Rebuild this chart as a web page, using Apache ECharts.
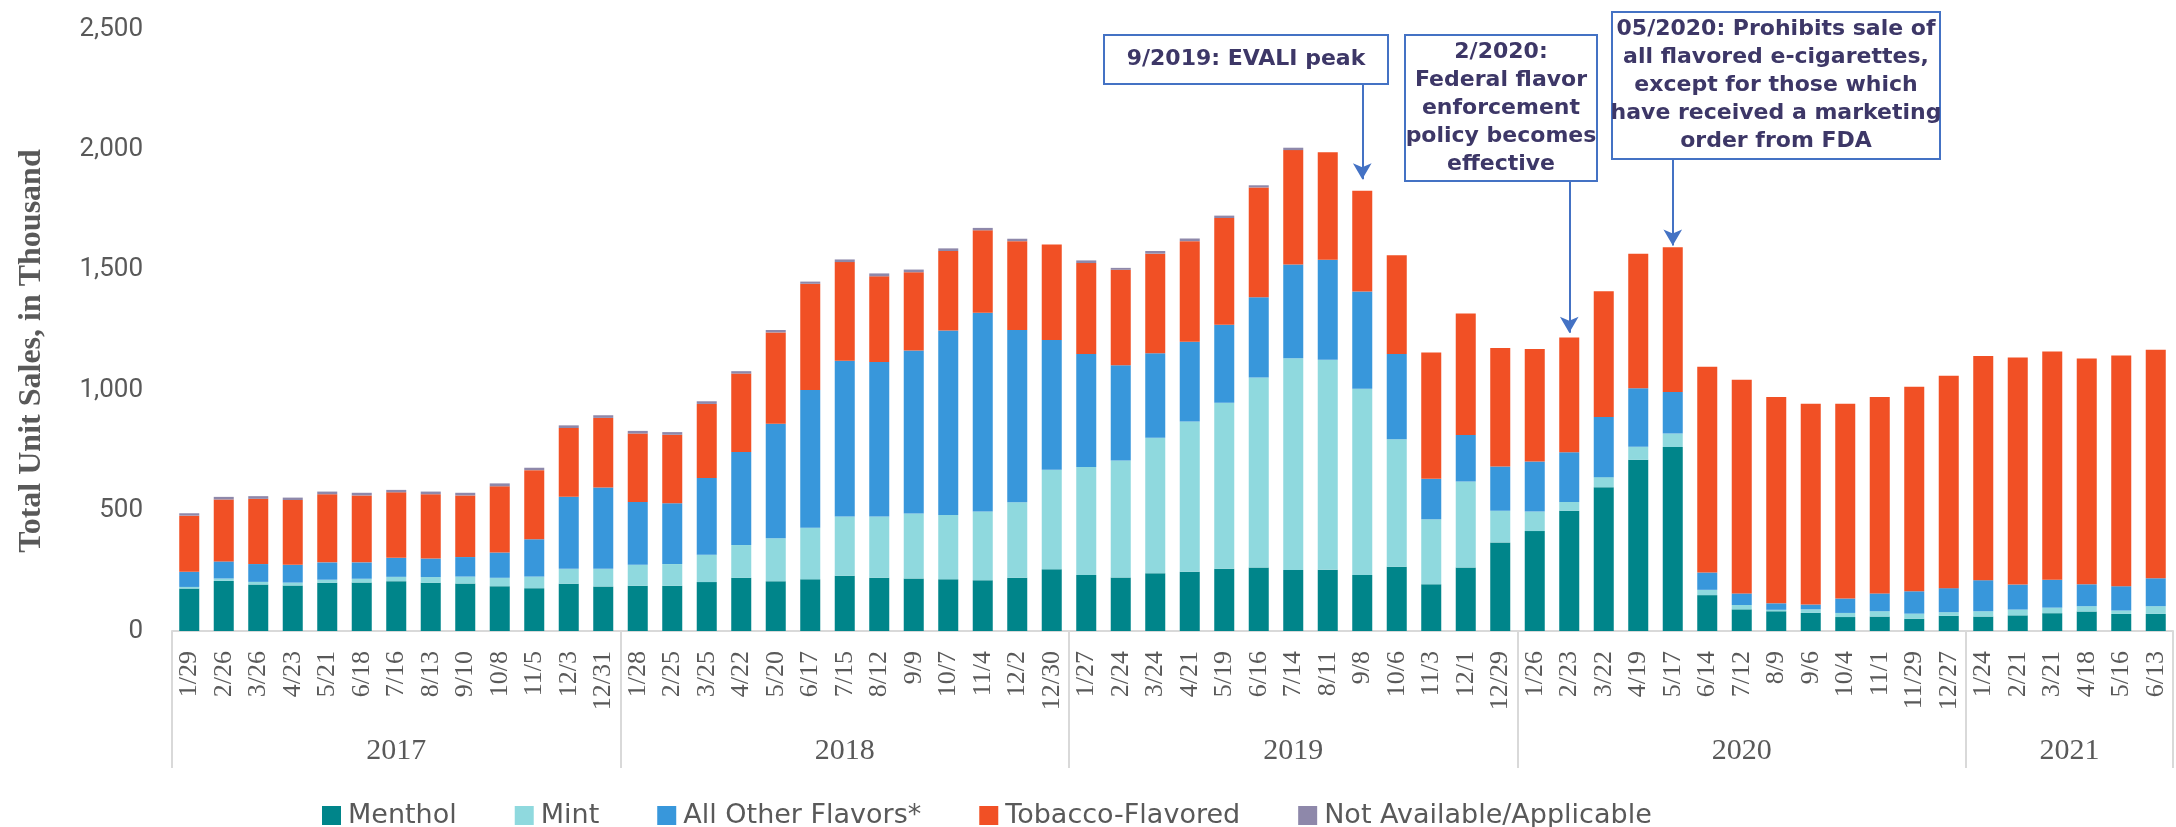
<!DOCTYPE html>
<html>
<head>
<meta charset="utf-8">
<title>E-cigarette unit sales by flavor</title>
<script src="https://cdn.jsdelivr.net/npm/echarts@6/dist/echarts.min.js"></script>
<style>
  html, body { margin: 0; padding: 0; background: #fff; }
  #chart { width: 2176px; height: 827px; }
</style>
</head>
<body>
<div id="chart"></div>
<script>
// 4-week periods, Jan 2017 - Jun 2021
var weeks = [
  '1/29','2/26','3/26','4/23','5/21','6/18','7/16','8/13','9/10','10/8','11/5','12/3','12/31',
  '1/28','2/25','3/25','4/22','5/20','6/17','7/15','8/12','9/9','10/7','11/4','12/2','12/30',
  '1/27','2/24','3/24','4/21','5/19','6/16','7/14','8/11','9/8','10/6','11/3','12/1','12/29',
  '1/26','2/23','3/22','4/19','5/17','6/14','7/12','8/9','9/6','10/4','11/1','11/29','12/27',
  '1/24','2/21','3/21','4/18','5/16','6/13'
];
var years = ['2017', '2018', '2019', '2020', '2021'];
var yearSizes = [13, 13, 13, 13, 6];   // number of periods in each year

// unit sales, in thousand
var menthol = [
  176,208,193,189,200,201,207,200,197,186,178,196,185,
  188,188,203,221,207,215,229,221,218,215,211,221,256,
  233,222,240,246,258,264,253,254,233,267,194,264,368,
  415,499,597,711,764,149,90,82,75,58,60,51,63,
  60,65,74,81,71,71
];
var mint = [
  7,10,11,12,13,16,18,24,29,35,48,62,73,
  87,90,114,136,178,214,246,255,270,267,285,314,414,
  448,486,563,624,690,789,880,872,773,529,270,357,131,
  81,37,42,54,56,22,18,6,15,17,22,21,15,
  22,24,23,22,14,32
];
var otherFlavors = [
  63,71,74,74,72,68,79,77,81,105,155,299,338,
  261,253,318,386,476,572,647,641,677,766,826,715,538,
  469,396,350,331,324,333,389,416,404,354,168,193,184,
  208,206,250,243,173,72,48,27,20,60,74,93,100,
  129,104,116,91,101,116
];
var tobacco = [
  233,257,271,269,283,278,272,267,256,275,287,286,289,
  284,284,308,326,379,441,410,356,325,330,342,369,397,
  378,396,414,418,443,456,475,446,418,410,525,505,492,
  467,477,522,559,601,854,887,857,834,809,816,849,882,
  931,943,948,938,958,949
];
var notAvailable = [
  10,11,11,10,11,11,10,11,11,12,10,11,11,
  11,11,11,10,10,9,11,12,11,11,10,10,0,
  11,8,11,11,10,9,10,0,0,0,0,0,0,
  0,0,0,0,0,0,0,0,0,0,0,0,0,
  0,0,0,0,0,0
];

// arrows: [period index, value at box bottom, value at arrow tip]
var arrows = [
  [34, 2272, 1876],   // 9/8/2019
  [40, 1868, 1239],   // 2/23/2020
  [43, 1959, 1601]    // 5/17/2020
];

var colors = ['#00858A', '#8FD9DE', '#3897DB', '#F15025', '#8E88AA'];
var gray = '#595959';
var noteColor = '#3D3767';
var boxColor = '#4472C4';

// year group edges and centers on the 0..N scale of the lower axis
var yearEdges = [0], yearMids = [];
yearSizes.forEach(function (n, i) {
  yearMids.push(yearEdges[i] + n / 2);
  yearEdges.push(yearEdges[i] + n);
});

var myChart = echarts.init(document.getElementById('chart'));

function barSeries(name, data, idx) {
  return {
    name: name,
    type: 'bar',
    stack: 'total',
    data: data,
    barCategoryGap: '42%',
    itemStyle: { color: colors[idx] }
  };
}

var series = [
  barSeries('Menthol', menthol, 0),
  barSeries('Mint', mint, 1),
  barSeries('All Other Flavors*', otherFlavors, 2),
  barSeries('Tobacco-Flavored', tobacco, 3),
  barSeries('Not Available/Applicable', notAvailable, 4)
];
// annotation arrows
series[0].markLine = {
  silent: true,
  symbol: ['none', 'arrow'],
  symbolSize: [14, 16],
  label: { show: false },
  lineStyle: { color: boxColor, width: 2, type: 'solid' },
  data: arrows.map(function (a) {
    return [{ coord: [a[0], a[1]] }, { coord: [a[0], a[2]] }];
  })
};

function noteBox(x, y, w, h, text) {
  return {
    type: 'group',
    children: [
      { type: 'rect', shape: { x: x, y: y, width: w, height: h },
        style: { fill: '#fff', stroke: boxColor, lineWidth: 2 } },
      { type: 'text', x: x + w / 2, y: y + h / 2,
        style: { text: text, fill: noteColor, align: 'center', verticalAlign: 'middle',
                 font: 'bold 22px "DejaVu Sans"', lineHeight: 28 } }
    ]
  };
}

var option = {
  animation: false,
  textStyle: { fontFamily: 'Roboto' },
  grid: { left: 172, right: 3, top: 29, bottom: 196 },
  legend: {
    left: 313,
    top: 797,
    itemWidth: 23,
    itemHeight: 23,
    itemGap: 54,
    icon: 'rect',
    // white border trims the 23px box to a ~19px swatch
    itemStyle: { borderColor: '#fff', borderWidth: 4 },
    textStyle: { fontSize: 27, color: gray, fontFamily: '"DejaVu Sans"' }
  },
  xAxis: [
    {
      type: 'category',
      data: weeks,
      axisLine: { lineStyle: { color: '#D9D9D9', width: 2 } },
      axisTick: { show: false },
      axisLabel: {
        interval: 0,
        rotate: 90,
        margin: 20,
        color: gray,
        fontFamily: '"Liberation Serif"',
        fontSize: 26
      }
    },
    {
      // lower tier: years
      type: 'value',
      position: 'bottom',
      min: 0,
      max: weeks.length,
      axisLine: { show: false },
      splitLine: { show: false },
      axisTick: {
        show: true,
        customValues: yearEdges,
        length: 137,
        lineStyle: { color: '#D9D9D9', width: 2 }
      },
      axisLabel: {
        customValues: yearMids,
        margin: 105,
        color: gray,
        fontFamily: '"Liberation Serif"',
        fontSize: 30,
        formatter: function (v) {
          return years[yearMids.indexOf(v)];
        }
      }
    }
  ],
  yAxis: {
    type: 'value',
    min: 0,
    max: 2500,
    interval: 500,
    name: 'Total Unit Sales, in Thousand',
    nameLocation: 'middle',
    nameGap: 124,
    nameTextStyle: {
      fontFamily: '"Liberation Serif"',
      fontWeight: 'bold',
      fontSize: 32,
      color: gray,
      padding: [0, 42, 0, 0]
    },
    axisLine: { show: false },
    axisTick: { show: false },
    splitLine: { show: false },
    axisLabel: {
      margin: 29,
      color: gray,
      fontSize: 26,
      formatter: function (v) { return v.toLocaleString('en-US'); }
    }
  },
  graphic: [
    noteBox(1104, 35, 284, 49, '9/2019: EVALI peak'),
    noteBox(1405, 35, 192, 146, '2/2020:\nFederal flavor\nenforcement\npolicy becomes\neffective'),
    noteBox(1612, 12, 328, 147, '05/2020: Prohibits sale of\nall flavored e-cigarettes,\nexcept for those which\nhave received a marketing\norder from FDA')
  ],
  series: series
};

myChart.setOption(option);
</script>
</body>
</html>
